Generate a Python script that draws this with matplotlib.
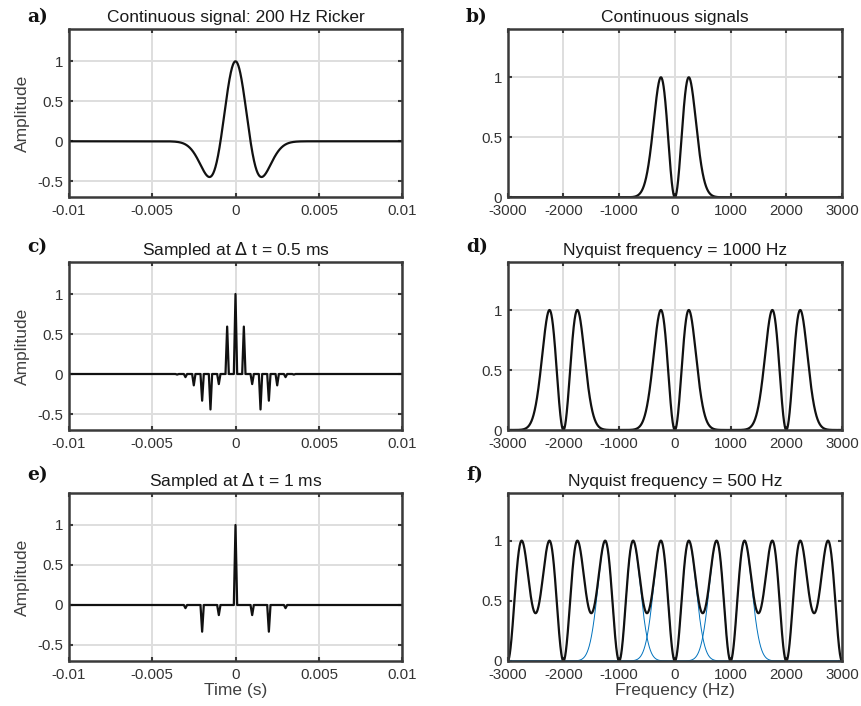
import numpy as np
import matplotlib
matplotlib.use('Agg')
import matplotlib.pyplot as plt

# ---- data ----
peak_freq = 250.0            # Hz, spectral peak seen in b) (title says 200 Hz)
fine_dt = 1e-4               # s, grid used to draw the time traces
sample_dts = [0.5e-3, 1e-3]  # s, panels c) and e)
nyquists = [1000, 500]       # Hz, panels d) and f)
blue_copies = [-1, 0, 1]     # spectral copies drawn thin in f)
time_ticks = [-0.01, -0.005, 0, 0.005, 0.01]
time_labels = ['-0.01', '-0.005', '0', '0.005', '0.01']
amp_ticks = [-0.5, 0, 0.5, 1]
amp_labels = ['-0.5', '0', '0.5', '1']
freq_ticks = [-3000, -2000, -1000, 0, 1000, 2000, 3000]
freq_labels = ['-3000', '-2000', '-1000', '0', '1000', '2000', '3000']
spec_ticks = [0, 0.5, 1]
spec_labels = ['0', '0.5', '1']

titles = ['Continuous signal: 200 Hz Ricker', 'Continuous signals',
          'Sampled at $\\Delta$ t = 0.5 ms', 'Nyquist frequency = 1000 Hz',
          'Sampled at $\\Delta$ t = 1 ms', 'Nyquist frequency = 500 Hz']
letters = ['a)', 'b)', 'c)', 'd)', 'e)', 'f)']


def ricker(t, f):
    a = (np.pi * f * t) ** 2
    return (1 - 2 * a) * np.exp(-a)


def ricker_spec(f, fp):
    r = (f / fp) ** 2
    return r * np.exp(1 - r)


plt.rcParams['font.family'] = ['Liberation Sans', 'DejaVu Sans']
plt.rcParams['mathtext.fontset'] = 'dejavusans'
plt.rcParams['axes.unicode_minus'] = False
plt.rcParams['text.color'] = '#262626'
plt.rcParams['axes.labelcolor'] = '#404040'

W, H = 861, 706
fig = plt.figure(figsize=(W / 100, H / 100), dpi=100)

col_x = [68.7, 507.7]
col_w = [333.6, 334.3]
row_top = [29.3, 262, 493]
ax_h = 168

axs = []
for r in range(3):
    for c in range(2):
        ax = fig.add_axes([col_x[c] / W, 1 - (row_top[r] + ax_h) / H, col_w[c] / W, ax_h / H])
        axs.append(ax)

t = np.round(np.arange(-0.01, 0.01 + fine_dt / 2, fine_dt), 6)
t_fine = np.linspace(-0.01, 0.01, 2001)
f = np.linspace(-3000, 3000, 6001)
lw = 1.6
kcol = '#111111'

# time panels
axs[0].plot(t_fine, ricker(t_fine, peak_freq), color=kcol, lw=lw)
for i, dts in enumerate(sample_dts):
    step = int(round(dts / fine_dt))
    idx = np.round(t / fine_dt).astype(int)
    s = np.where(idx % step == 0, ricker(t, peak_freq), 0.0)
    axs[2 + 2 * i].plot(t, s, color=kcol, lw=lw)

# frequency panels
axs[1].plot(f, ricker_spec(f, peak_freq), color=kcol, lw=lw)
for i, ny in enumerate(nyquists):
    fs = 2 * ny
    ks = range(-int(6000 / fs) - 1, int(6000 / fs) + 2)
    total = sum(ricker_spec(f - k * fs, peak_freq) for k in ks)
    ax = axs[3 + 2 * i]
    if ny == 500:
        for k in blue_copies:
            ax.plot(f, ricker_spec(f - k * fs, peak_freq), color='#0072BD', lw=0.7)
    ax.plot(f, total, color=kcol, lw=lw)

for j, ax in enumerate(axs):
    if j % 2 == 0:
        ax.set_xlim(-0.01, 0.01)
        ax.set_ylim(-0.7, 1.4)
        ax.set_xticks(time_ticks)
        ax.set_xticklabels(time_labels)
        ax.set_yticks(amp_ticks)
        ax.set_yticklabels(amp_labels)
        ax.set_ylabel('Amplitude', fontsize=12.5, labelpad=5)
    else:
        ax.set_xlim(-3000, 3000)
        ax.set_ylim(0, 1.4)
        ax.set_xticks(freq_ticks)
        ax.set_xticklabels(freq_labels)
        ax.set_yticks(spec_ticks)
        ax.set_yticklabels(spec_labels)
    ax.grid(True, color='#dedede', lw=1.4)
    ax.set_axisbelow(True)
    for sp in ax.spines.values():
        sp.set_color('#3a3a3a')
        sp.set_linewidth(1.8)
    ax.tick_params(direction='in', top=True, right=True, length=3, width=1.5,
                   color='#3a3a3a', labelsize=10.8, labelcolor='#333333', pad=4)
    ax.tick_params(axis='x', pad=5)
    ax.set_title(titles[j], fontsize=12.5, pad=5, color='#1a1a1a')

axs[4].set_xlabel('Time (s)', fontsize=12.5, labelpad=1)
axs[5].set_xlabel('Frequency (Hz)', fontsize=12.5, labelpad=1)

label_y = [17, 247, 475]
label_x = [27, 466]
for j, lab in enumerate(letters):
    fig.text(label_x[j % 2] / W, 1 - label_y[j // 2] / H, lab, fontsize=13.5,
             family='DejaVu Serif', weight='bold', va='center', ha='left', color='#111111')

fig.savefig('out.png', dpi=100)
